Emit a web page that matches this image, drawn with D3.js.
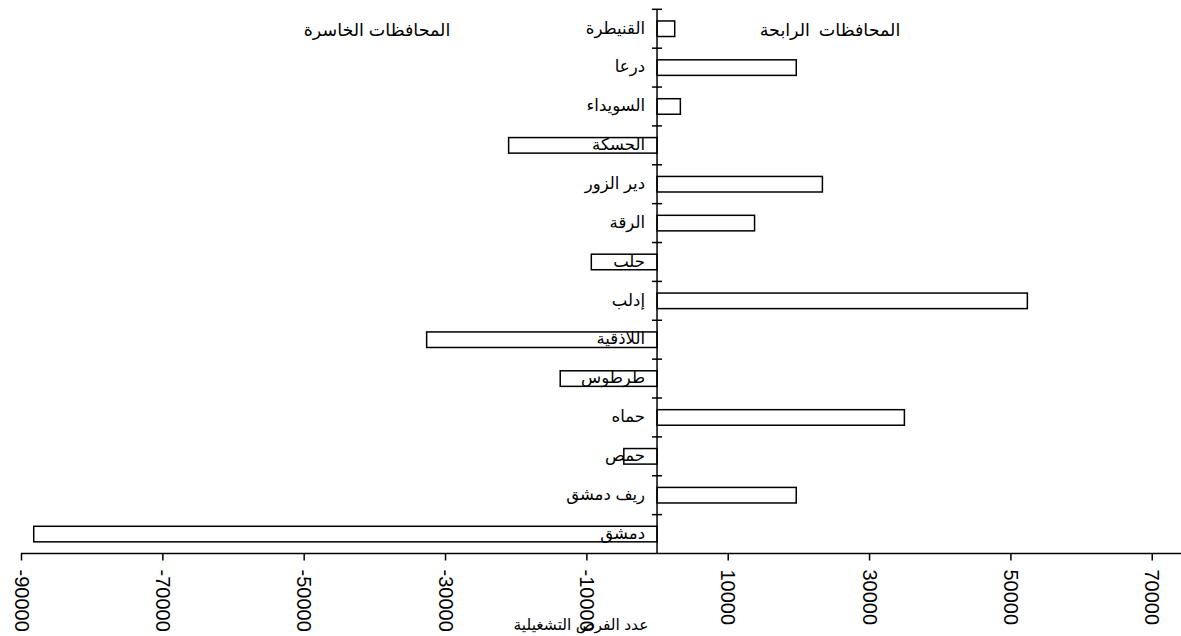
<!DOCTYPE html>
<html><head><meta charset="utf-8">
<script src="https://cdn.jsdelivr.net/npm/d3@7"></script>
<style>body{margin:0;background:#fff}svg{display:block}</style>
</head><body>
<svg id="c" width="1181" height="636"></svg>
<script>
const categories = ["القنيطرة","درعا","السويداء","الحسكة","دير الزور","الرقة","حلب","إدلب","اللاذقية","طرطوس","حماه","حمص","ريف دمشق","دمشق"];
const values = [2500,19700,3300,-21000,23400,13800,-9300,52400,-32600,-13700,35000,-4700,19700,-88200];
const xTicks = [-90000,-70000,-50000,-30000,-10000,10000,30000,50000,70000];
const lossTitle = "المحافظات الخاسرة";
const gainTitle = "المحافظات الرابحة";
const axisTitle = "عدد الفرص التشغيلية";

const svg = d3.select("#c");
const font = "'Liberation Sans', Arial, 'DejaVu Sans', sans-serif";
const x = d3.scaleLinear().domain([-90000, 74000]).range([21, 1180]);
const y = d3.scaleBand().domain(categories).range([9.3, 553.5]).paddingInner(0.6).paddingOuter(0.3);
const yTop = 9.3, yBot = 553.5;

// bars
svg.append("g").selectAll("rect").data(categories).join("rect")
  .attr("x", (d,i) => x(Math.min(0, values[i])))
  .attr("width", (d,i) => Math.abs(x(values[i]) - x(0)))
  .attr("y", d => y(d))
  .attr("height", y.bandwidth())
  .attr("fill", "#fff").attr("stroke", "#000").attr("stroke-width", 1.5);

// x axis
const xa = svg.append("g").attr("transform", `translate(0,${yBot})`)
  .call(d3.axisBottom(x).tickValues(xTicks).tickSize(7).tickFormat(d => String(d)));
xa.select(".domain").attr("stroke-width", 1.5).attr("d", `M${x(-90000)},0H1181`);
xa.selectAll(".tick line").attr("stroke-width", 1.5);
xa.selectAll(".tick text")
  .attr("font-family", font).attr("font-size", 20).attr("fill", "#000")
  .attr("text-anchor", "start")
  .attr("transform", "rotate(90)")
  .attr("x", 16).attr("y", 0).attr("dy", "0.35em");

// y axis
const bandTops = categories.map((d,i) => yTop + i * (yBot - yTop) / categories.length);
const ya = svg.append("g");
ya.append("line").attr("x1", x(0)).attr("x2", x(0)).attr("y1", yTop).attr("y2", yBot)
  .attr("stroke", "#000").attr("stroke-width", 1.5);
ya.selectAll("line.t").data(bandTops).join("line").attr("class","t")
  .attr("x1", x(0) - 5).attr("x2", x(0) + 5).attr("y1", d => d).attr("y2", d => d)
  .attr("stroke", "#000").attr("stroke-width", 1.5);

// category labels
svg.append("g").selectAll("text").data(categories).join("text")
  .attr("x", x(0) - 12)
  .attr("y", d => y(d) + y.bandwidth() / 2 - 1)
  .attr("dy", "0.35em")
  .attr("text-anchor", "end")
  .attr("font-family", font).attr("font-size", 16.5).attr("fill", "#000")
  .text(d => d);

// titles
svg.append("text").attr("x", 377).attr("y", 36).attr("text-anchor", "middle")
  .attr("font-family", font).attr("font-size", 17.5).text(lossTitle);
svg.append("text").attr("x", 830).attr("y", 36).attr("text-anchor", "middle")
  .attr("font-family", font).attr("font-size", 17.5).attr("word-spacing", 4).text(gainTitle);
svg.append("text").attr("x", 581).attr("y", 630).attr("text-anchor", "middle")
  .attr("font-family", font).attr("font-size", 15.5).text(axisTitle);
</script>
</body></html>
